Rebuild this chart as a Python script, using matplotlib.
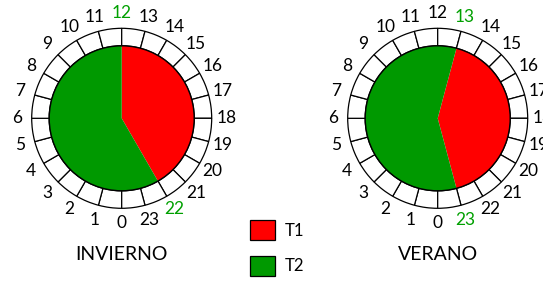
import numpy as np
import matplotlib
matplotlib.use("Agg")
import matplotlib.pyplot as plt
from matplotlib.patches import Patch

plt.rcParams['font.family'] = ['Lato', 'DejaVu Sans']

# Data
seasons = ["INVIERNO", "VERANO"]
t1_start = [12, 13]   # hour when T1 begins
t1_end = [22, 23]     # hour when T1 ends
hours = list(range(24))
categories = ["T1", "T2"]
colors = {"T1": "#FF0000", "T2": "#009900"}
label_green = "#00A000"

W, H = 543, 281
fig = plt.figure(figsize=(W / 100, H / 100), dpi=100)
ax = fig.add_axes([0, 0, 1, 1])

centers = [(121.7, H - 118.3), (437.7, H - 118.3)]
r_outer = 90
r_inner = 72.5
r_label = 105

for i, season in enumerate(seasons):
    cx, cy = centers[i]
    # ring of 24 hour segments
    ax.pie([1] * 24, radius=r_outer, center=(cx, cy), startangle=270,
           counterclock=False,
           colors=["white"] * 24,
           wedgeprops=dict(width=r_outer - r_inner, edgecolor="black",
                           linewidth=0.9))
    # inner pie with T1 / T2
    dur_t1 = t1_end[i] - t1_start[i]
    vals = [dur_t1, 24 - dur_t1]
    ax.pie(vals, radius=r_inner, center=(cx, cy),
           startangle=270 - 15 * t1_start[i], counterclock=False,
           colors=[colors[c] for c in categories],
           wedgeprops=dict(edgecolor="none", linewidth=0))
    circ = plt.Circle((cx, cy), r_inner, fill=False, edgecolor="black", lw=1.0)
    ax.add_patch(circ)
    # hour labels
    for h in hours:
        ang = np.deg2rad(270 - 15 * h)
        tx = cx + r_label * np.cos(ang)
        ty = cy + r_label * np.sin(ang)
        col = label_green if h in (t1_start[i], t1_end[i]) else "black"
        ax.text(tx, ty, str(h), ha="center", va="center", fontsize=12.5,
                color=col)
    ax.text(cx, H - 255, season, ha="center", va="center", fontsize=14,
            color="black")

handles = [Patch(facecolor=colors[c], edgecolor="black", linewidth=0.9)
           for c in categories]
leg = ax.legend(handles, categories, loc="upper left",
                bbox_to_anchor=(247 / W, 1 - 217 / H), frameon=False,
                fontsize=12, handlelength=1.45, handleheight=1.45,
                labelspacing=0.95, handletextpad=0.6, borderpad=0.2,
                borderaxespad=0)

ax.set_xlim(0, W)
ax.set_ylim(0, H)
ax.set_aspect("auto")
ax.axis("off")

fig.savefig("out.png", dpi=100)
